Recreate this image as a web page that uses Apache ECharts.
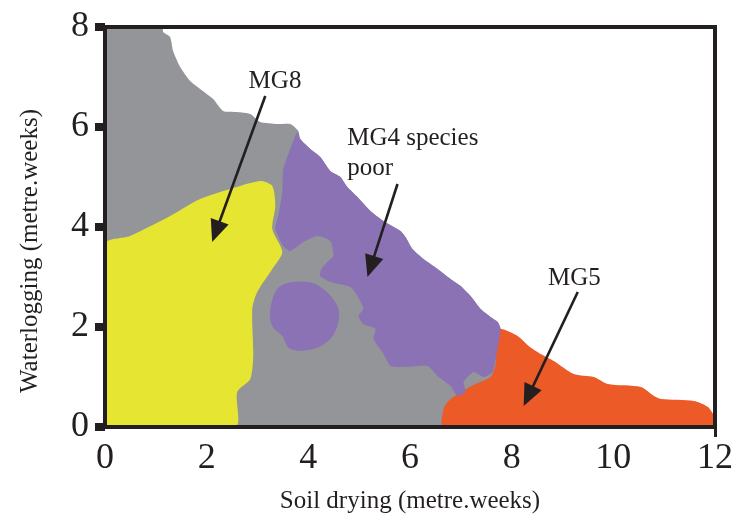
<!DOCTYPE html>
<html>
<head>
<meta charset="utf-8">
<script src="https://cdn.jsdelivr.net/npm/echarts@6/dist/echarts.min.js"></script>
<style>html,body{margin:0;padding:0;background:#fff}#c{width:750px;height:519px}</style>
</head>
<body>
<div id="c"></div>
<script>
// Axis ticks
const xTickValues = [0, 2, 4, 6, 8, 10, 12];
const yTickValues = [0, 2, 4, 6, 8];

// Region outlines in data units (soil drying, waterlogging)
const grayRegion = [
  [-0.1,-0.1],[-0.1,0],[-0.1,8.1],[0,8.1],[1.143,8.1],[1.143,8],[1.143,7.9],[1.281,7.8],[1.34,7.52],[1.478,7.2],[1.675,6.92],[1.872,6.76],
  [2.128,6.56],[2.325,6.32],[2.601,6.3],[2.857,6.26],[3.054,6.1],[3.389,6.06],[3.645,6.06],[3.803,5.92],
  [3.842,5.76],[4.039,5.56],[4.236,5.4],[4.433,5.12],[4.631,5.0],[4.768,4.8],[4.966,4.6],[5.222,4.32],
  [5.478,4.12],[5.813,3.92],[5.911,3.8],[6.049,3.56],[6.266,3.36],[6.542,3.16],[6.798,2.96],[6.995,2.82],
  [7.192,2.62],[7.389,2.36],[7.586,2.2],[7.724,2.1],[7.783,1.96],[7.8,1.0],[7.8,-0.1],[7.0,-0.1]
];
const yellowRegion = [
  [0,0],[0,3.66],[0.493,3.82],[1.281,4.22],[1.872,4.56],[2.463,4.76],[3.054,4.92],[3.291,4.82],
  [3.35,4.42],[3.291,3.96],[3.488,3.5],[3.291,3.16],[2.995,2.7],[2.897,2.36],[2.916,1.42],
  [2.857,0.96],[2.601,0.7],[2.562,0]
];
const orangeRegion = [
  [6.66,0],[6.66,0.36],[6.739,0.5],[6.857,0.6],[7.034,0.72],[7.291,0.86],[7.586,1.0],[7.685,1.26],
  [7.704,1.76],[7.783,1.96],[8.118,1.82],[8.335,1.62],[8.571,1.46],[8.828,1.32],[9.222,1.06],
  [9.616,1.0],[9.892,0.86],[10.542,0.8],[10.798,0.62],[10.936,0.56],[11.586,0.52],[11.862,0.4],
  [11.98,0.22],[12,0]
];
const purpleMain = [
  [3.783,5.9],[3.842,5.76],[4.039,5.56],[4.236,5.4],[4.433,5.12],[4.631,5.0],[4.768,4.8],[4.966,4.6],
  [5.222,4.32],[5.478,4.12],[5.813,3.92],[5.911,3.8],[6.049,3.56],[6.266,3.36],[6.542,3.16],
  [6.798,2.96],[6.995,2.82],[7.192,2.62],[7.389,2.36],[7.586,2.2],[7.724,2.1],[7.783,1.96],
  [7.685,1.36],[7.626,1.1],[7.448,1.0],[7.251,1.1],[7.054,0.9],[7.094,0.7],[6.936,0.62],[6.798,0.82],
  [6.542,1.02],[6.345,1.22],[5.872,1.2],[5.616,1.22],[5.458,1.5],[5.281,1.76],[5.32,1.96],[5.084,2.06],
  [4.985,2.22],[5.084,2.36],[4.966,2.62],[4.828,2.8],[4.433,2.9],[4.236,3.02],[4.256,3.16],[4.374,3.3],
  [4.493,3.42],[4.433,3.72],[4.177,3.82],[3.901,3.7],[3.645,3.52],[3.507,3.62],[3.35,3.96],
  [3.409,4.22],[3.488,4.7],[3.507,5.16],[3.645,5.56]
];
const purpleBlob = [
  [3.448,2.82],[3.251,2.36],[3.291,2.02],[3.488,1.82],[3.645,1.56],[4.099,1.56],[4.433,1.76],
  [4.591,2.1],[4.571,2.42],[4.296,2.76],[3.98,2.9]
];

// Annotation arrows: [fromX, fromY, toX, toY]
const arrows = [
  [3.153, 6.62, 2.108, 3.70],
  [5.754, 4.86, 5.163, 3.00],
  [9.300, 2.70, 8.236, 0.42]
];
// Annotation labels: [x, y]
const labelPos = [[3.344, 6.92], [4.764, 5.48], [9.232, 2.98]];
const labelText = ['MG8', 'MG4 species\npoor', 'MG5'];
const labelAlign = ['center', 'left', 'center'];

const INK = '#231f20';
const FONT = 'Liberation Serif';

function regionSeries(points, color, smooth) {
  return {
    type: 'custom',
    coordinateSystem: 'cartesian2d',
    data: [[points[0][0], points[0][1]]],
    silent: true,
    clip: true,
    renderItem: function (params, api) {
      return {
        type: 'polygon',
        shape: { points: points.map(p => api.coord(p)), smooth: smooth },
        style: { fill: color, stroke: null }
      };
    }
  };
}

const chart = echarts.init(document.getElementById('c'), null, { renderer: 'canvas' });
chart.setOption({
  animation: false,
  backgroundColor: '#fff',
  grid: { left: 105, right: 35, top: 27, bottom: 91, show: true, borderColor: INK, borderWidth: 4, backgroundColor: 'transparent', z: 3 },
  xAxis: {
    type: 'value', min: 0, max: 12, interval: 2, z: 4,
    name: 'Soil drying (metre.weeks)', nameLocation: 'middle', nameGap: 62,
    nameTextStyle: { fontFamily: FONT, fontSize: 25, color: INK },
    axisLine: { show: true, lineStyle: { color: INK, width: 4 } },
    axisTick: { show: true, customValues: [12], length: 10, lineStyle: { color: INK, width: 3 } },
    axisLabel: { customValues: xTickValues, fontFamily: FONT, fontSize: 36, color: INK, margin: 14 },
    splitLine: { show: false }
  },
  yAxis: {
    type: 'value', min: 0, max: 8, interval: 2, z: 4,
    name: 'Waterlogging (metre.weeks)', nameLocation: 'middle', nameGap: 62, nameRotate: 90,
    nameTextStyle: { fontFamily: FONT, fontSize: 25, color: INK, padding: [0, 48, 0, 0] },
    axisLine: { show: true, lineStyle: { color: INK, width: 4 } },
    axisTick: { show: true, customValues: yTickValues, length: 10, lineStyle: { color: INK, width: 8 } },
    axisLabel: { customValues: yTickValues, fontFamily: FONT, fontSize: 36, color: INK, margin: 16 },
    splitLine: { show: false }
  },
  series: [
    regionSeries(grayRegion, '#939598', 0.2),
    regionSeries(orangeRegion, '#eb5a27', 0.25),
    regionSeries(yellowRegion, '#e5e532', 0.25),
    regionSeries(purpleMain, '#8a72b4', 0.2),
    regionSeries(purpleBlob, '#8a72b4', 0.35),
    {
      type: 'custom', coordinateSystem: 'cartesian2d', silent: true, clip: false,
      data: arrows,
      renderItem: function (params, api) {
        const s = api.coord([api.value(0), api.value(1)]);
        const t = api.coord([api.value(2), api.value(3)]);
        const dx = t[0] - s[0], dy = t[1] - s[1];
        const L = Math.sqrt(dx * dx + dy * dy);
        const ux = dx / L, uy = dy / L;
        const hl = 22, hw = 9.5;
        const b = [t[0] - ux * hl, t[1] - uy * hl];
        return {
          type: 'group',
          children: [
            { type: 'line', shape: { x1: s[0], y1: s[1], x2: b[0] + ux * 2, y2: b[1] + uy * 2 }, style: { stroke: INK, lineWidth: 2.6 } },
            { type: 'polygon', shape: { points: [t, [b[0] - uy * hw, b[1] + ux * hw], [b[0] + uy * hw, b[1] - ux * hw]] }, style: { fill: INK } }
          ]
        };
      }
    },
    {
      type: 'custom', coordinateSystem: 'cartesian2d', silent: true, clip: false,
      data: labelPos,
      renderItem: function (params, api) {
        const p = api.coord([api.value(0), api.value(1)]);
        const i = params.dataIndex;
        return {
          type: 'text', x: p[0], y: p[1],
          style: { text: labelText[i], fill: INK, font: '25px "' + FONT + '"', align: labelAlign[i], verticalAlign: 'middle', lineHeight: 30 }
        };
      }
    }
  ]
});
</script>
</body>
</html>
